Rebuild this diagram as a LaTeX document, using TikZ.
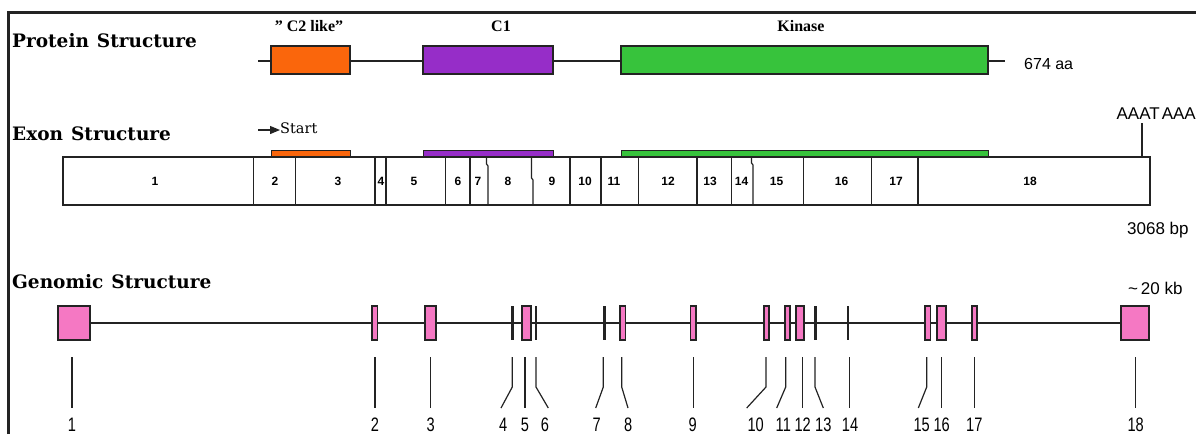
\documentclass[tikz,border=0pt]{standalone}
\usepackage{fontspec}
\setmainfont{Liberation Serif}
\newfontfamily\ttlfont{DejaVu Serif}
\newfontfamily\narrowsans[FakeStretch=0.75]{Liberation Sans}
\newfontfamily\plainsans{Liberation Sans}
\usetikzlibrary{arrows.meta,backgrounds}
\definecolor{corange}{RGB}{250,102,12}
\definecolor{cpurple}{RGB}{150,45,200}
\definecolor{cgreen}{RGB}{55,195,60}
\definecolor{cpink}{RGB}{245,120,195}
\definecolor{ink}{RGB}{35,35,35}
\begin{document}
\begin{tikzpicture}[x=1pt,y=-1pt,
  ttl/.style={font=\ttlfont\bfseries\fontsize{18.5}{22}\selectfont,anchor=base west,inner sep=0pt},
  dom/.style={font=\bfseries\fontsize{16}{18}\selectfont,anchor=base,inner sep=0pt},
  pbox/.style={draw=ink,line width=1.3pt,inner sep=0pt,minimum height=28pt},
  bar/.style={draw=ink,line width=0.8pt,inner sep=0pt,minimum height=5.5pt},
  enum/.style={font=\plainsans\bfseries\fontsize{12}{14}\selectfont,inner sep=0pt},
  gx/.style={draw=ink,fill=cpink,line width=1.3pt,inner sep=0pt,minimum height=34pt},
  gbar/.style={fill=ink,draw=none,inner sep=0pt,minimum height=34pt},
  glab/.style={font=\narrowsans\fontsize{19.5}{22}\selectfont,anchor=base,inner sep=0pt},
  lead/.style={draw=ink,line width=1.2pt},
  sanslab/.style={font=\plainsans\fontsize{17}{20}\selectfont,inner sep=0pt},
  divider/.style={draw=ink,line width=1.2pt}
]
\useasboundingbox (0,0) rectangle (1196,434);
\begin{scope}[on background layer]
  \fill[white] (0,0) rectangle (1196,434);
\end{scope}
% frame
\draw[line width=3pt,ink] (8.5,434) -- (8.5,12.5) -- (1196,12.5);

% titles
\node[ttl] (ptitle) at (12,47) {Protein\hskip8pt Structure};
\node[ttl] (etitle) at (12,140) {Exon\hskip8pt Structure};
\node[ttl] (gtitle) at (12,288) {Genomic\hskip8pt Structure};

% protein structure
\node[pbox,fill=corange,minimum width=79pt] (c2) at (310.5,60) {};
\node[pbox,fill=cpurple,minimum width=130pt] (c1) at (488,60) {};
\node[pbox,fill=cgreen,minimum width=367pt] (kin) at (804.5,60) {};
\coordinate (pl) at (258,61);
\coordinate (pr) at (1005,61);
\begin{scope}[on background layer]
  \draw[line width=1.3pt,ink] (pl) -- (pr);
\end{scope}
\node[dom] (c2l) at (309,31) {" C2 like"};
\node[dom] (c1l) at (501,31) {C1};
\node[dom] (kinl) at (801,31) {Kinase};
\node[font=\plainsans\fontsize{16}{18}\selectfont,anchor=base west,inner sep=0pt] (aa) at (1024,69) {674 aa};

% exon structure
\coordinate (sa) at (258,130);
\node[font=\ttlfont\fontsize{14.5}{16}\selectfont,anchor=base west,inner sep=0pt] (start) at (280,133) {Start};
\draw[ink,line width=1.2pt,-{Triangle[length=10pt,width=8pt]}] (sa) -- (sa -| start.west);

\node[draw=ink,line width=1.3pt,inner sep=0pt,minimum width=1087pt,minimum height=48pt] (erow) at (606.5,181) {};
\node[bar,fill=corange,minimum width=79pt] (b1) at (310.5,153.5) {};
\node[bar,fill=cpurple,minimum width=130pt] (b2) at (488,153.5) {};
\node[bar,fill=cgreen,minimum width=367pt] (b3) at (804.5,153.5) {};
\foreach \x in {253.5,295.5,375,386,445.7,470,570,601,638.3,697,731.7,803.3,871.5,918}
  \draw[divider] (\x,157) -- (\x,205);
\draw[divider] (486.5,157) -- (486.5,164) -- (488,166) -- (488,205);
\draw[divider] (531.5,157) -- (531.5,178) -- (533,180) -- (533,205);
\draw[divider] (751.5,157) -- (751.5,163) -- (753,165) -- (753,205);
\foreach \n/\x in {1/155,2/275,3/338,4/381,5/414,6/458,7/478,8/508,9/552,10/585,11/614,12/668,13/710,14/741.5,15/776.5,16/841.5,17/896,18/1030}
  \node[enum] (en\n) at (\x,181) {\n};
\node[sanslab,anchor=base east] (polya) at (1196,119) {AAAT\kern2pt AAA};
\coordinate (pa) at (1142,157);
\draw[lead] (pa) -- (1142,123);
\node[sanslab,anchor=base west] (bp) at (1127,234) {3068 bp};

% genomic structure
\foreach \n/\a/\b in {1/58/90,2/372/377.5,3/425/436,5/522/531,8/620/625.5,9/690.5/696,10/764/769,11/785/790,12/796/804,15/925/930.5,16/937/946,17/972/977,18/1121/1149}
  \node[gx,minimum width=\b-\a] (g\n) at ({(\a+\b)/2},323) {};
\foreach \n/\x/\w in {4/512.3/3,6/536/2,7/604/3,13/815.7/3,14/848/2}
  \node[gbar,minimum width=\w] (g\n) at (\x,323) {};
\begin{scope}[on background layer]
  \draw[lead] (g1.east) -- (g18.west);
\end{scope}
\node[sanslab,anchor=base west] (kb) at (1128,294) {\textasciitilde\,20 kb};

\foreach \n/\x/\e/\lx in {1/72/72/72,2/375/375/375,3/430.5/430.5/430.7,4/512.3/501/503.3,5/525/525/525,6/536/548.3/545,7/603.3/595.7/596.7,8/621.7/628/628.3,9/693.3/693.3/692.7,10/766/746.7/755.7,11/785.7/776.7/783.3,12/802.3/802.3/802.7,13/815/823.3/823.3,14/849.3/849.3/850,15/926.7/918.3/921.7,16/941.7/941.7/941.7,17/974.3/974.3/974.3,18/1135.7/1135.7/1135.7}{
  \coordinate (t\n) at (\x,357);
  \coordinate (k\n) at (\x,387);
  \coordinate (e\n) at (\e,408);
  \node[glab] (l\n) at (\lx,431) {\n};
  \draw[lead] (t\n) -- (k\n) -- (e\n);
}
\end{tikzpicture}
\end{document}
